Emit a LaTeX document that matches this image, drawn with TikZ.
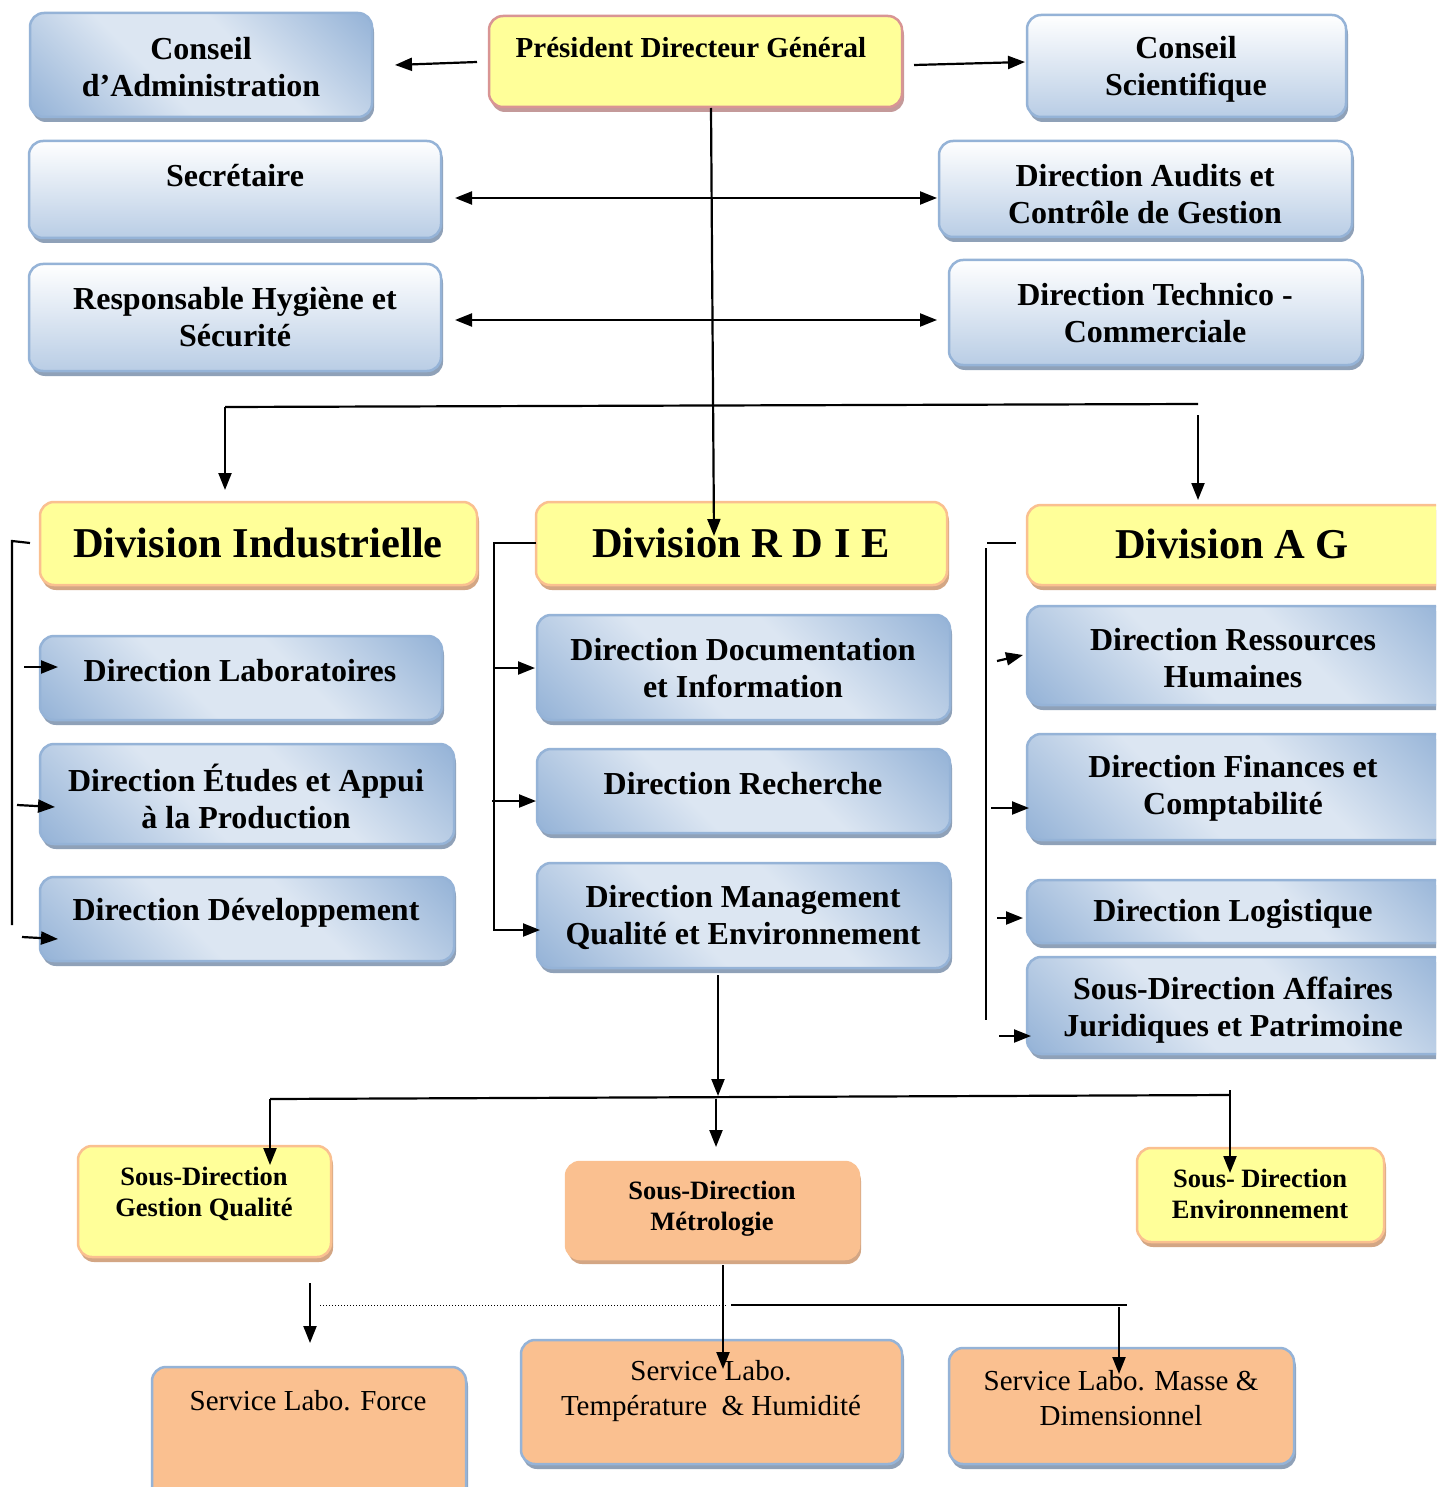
\documentclass[tikz,border=0pt]{standalone}
\usepackage{fontspec}
\setmainfont{Liberation Serif}
\usetikzlibrary{shadows,arrows.meta,calc}
\definecolor{bdark}{HTML}{95B3D7}
\definecolor{blight}{HTML}{DCE6F2}
\definecolor{bbot}{HTML}{B9CDE5}
\definecolor{yel}{HTML}{FFFF99}
\definecolor{orb}{HTML}{FAC090}
\definecolor{pinkb}{HTML}{D99594}
\definecolor{shblue}{HTML}{8FA1B8}
\definecolor{shtan}{HTML}{D3A684}
\definecolor{shpink}{HTML}{C49A9A}
\pgfdeclarehorizontalshading{diagsh}{100bp}{color(0bp)=(bdark); color(15bp)=(bdark); color(41bp)=(blight); color(59bp)=(blight); color(85bp)=(bdark); color(100bp)=(bdark)}
\newcommand\mkbox[6]{\node[#2, minimum width={#5pt-#3pt}, minimum height={#6pt-#4pt}] (#1) at ({(#3+#5)/2},{(#4+#6)/2}) {};}
\newcommand\mktext[5]{\node[#2] (#1) at (#3,#4) {#5};}
\tikzset{
  box/.style={rounded corners=14pt, line width=2.5pt, inner sep=0pt, outer sep=0pt},
  bshadow/.style={drop shadow={shadow xshift=2pt, shadow yshift=-5pt, fill=shblue, opacity=1}},
  diag/.style={box, bshadow, draw=bdark, shading=diagsh, shading angle=45},
  vert/.style={box, bshadow, draw=bdark, top color=white, bottom color=bbot},
  yelbox/.style={box, draw=orb, fill=yel, drop shadow={shadow xshift=2pt, shadow yshift=-5pt, fill=shtan, opacity=1}},
  pdgbox/.style={box, draw=pinkb, fill=yel, drop shadow={shadow xshift=2pt, shadow yshift=-5pt, fill=shpink, opacity=1}},
  orbox/.style={box, draw=orb, fill=orb, drop shadow={shadow xshift=2pt, shadow yshift=-5pt, fill=shtan, opacity=1}},
  servbox/.style={box, bshadow, draw=bdark, fill=orb},
  tb/.style={font=\fontsize{32}{37}\selectfont\bfseries, align=center, inner sep=0pt},
  tpdg/.style={font=\fontsize{29}{35}\selectfont\bfseries, align=center, inner sep=0pt},
  tdiv/.style={font=\fontsize{42.5}{50}\selectfont\bfseries, align=center, inner sep=0pt},
  tsm/.style={font=\fontsize{26.5}{31}\selectfont\bfseries, align=center, inner sep=0pt},
  tsv/.style={font=\fontsize{29}{35}\selectfont, align=center, inner sep=0pt},
  conn/.style={line width=2.2pt},
  arr/.style={conn, -{Triangle[length=17pt,width=13pt]}},
  darr/.style={conn, {Triangle[length=17pt,width=13pt]}-{Triangle[length=17pt,width=13pt]}},
}
\begin{document}
\begin{tikzpicture}[x=1pt,y=-1pt]
\useasboundingbox (0,0) rectangle (1436,1487);
\fill[white] (0,0) rectangle (1436,1487);
\clip (0,0) rectangle (1436,1487);
% boxes
\mkbox{ca}{diag}{30}{13}{372}{117}
\mkbox{pdg}{pdgbox}{489}{16}{902}{107}
\mkbox{cs}{vert}{1027}{15}{1346}{117}
\mkbox{sec}{vert}{29}{141}{441}{238}
\mkbox{aud}{vert}{939}{141}{1352}{237}
\mkbox{resp}{vert}{29}{264}{441}{371}
\mkbox{tech}{vert}{949}{260}{1362}{365}
\mkbox{divi}{yelbox}{40}{502}{477}{585}
\mkbox{divr}{yelbox}{536}{502}{947}{585}
\mkbox{diva}{yelbox}{1027}{505}{1452}{585}
\mkbox{labo}{diag}{40}{636}{442}{720}
\mkbox{etud}{diag}{40}{744}{454}{844}
\mkbox{dev}{diag}{40}{877}{454}{961}
\mkbox{doc}{diag}{537}{615}{950}{720}
\mkbox{rech}{diag}{537}{749}{950}{833}
\mkbox{mgmt}{diag}{537}{863}{950}{968}
\mkbox{rh}{diag}{1027}{606}{1452}{705}
\mkbox{fin}{diag}{1027}{734}{1452}{840}
\mkbox{log}{diag}{1027}{880}{1452}{943}
\mkbox{jur}{diag}{1027}{957}{1452}{1054}
\mkbox{gq}{yelbox}{78}{1146}{331}{1257}
\mkbox{metro}{orbox}{566}{1162}{859}{1259}
\mkbox{env}{yelbox}{1137}{1148}{1384}{1242}
\mkbox{force}{servbox}{152}{1367}{466}{1510}
\mkbox{temp}{servbox}{521}{1340}{902}{1464}
\mkbox{masse}{servbox}{949}{1348}{1294}{1464}
% texts
\mktext{ca-t}{tb}{201}{67}{Conseil\\d’Administration}
\mktext{pdg-t}{tpdg}{691}{48}{Président Directeur Général}
\mktext{cs-t}{tb}{1186}{69}{Conseil\\Scientifique}
\mktext{sec-t}{tb}{235}{176}{Secrétaire}
\mktext{aud-t}{tb}{1145}{194}{Direction Audits et\\Contrôle de Gestion}
\mktext{resp-t}{tb}{235}{317}{Responsable Hygiène et\\Sécurité}
\mktext{tech-t}{tb}{1155}{313}{Direction Technico -\\Commerciale}
\mktext{divi-t}{tdiv}{258}{543}{Division Industrielle}
\mktext{divr-t}{tdiv}{741}{543}{Division R D I E}
\mktext{diva-t}{tdiv}{1232}{544}{Division A G}
\mktext{labo-t}{tb}{240}{671}{Direction Laboratoires}
\mktext{etud-t}{tb}{246}{796}{Direction Études et Appui\\à la Production}
\mktext{dev-t}{tb}{246}{913}{Direction Développement}
\mktext{doc-t}{tb}{743}{668}{Direction Documentation\\et Information}
\mktext{rech-t}{tb}{743}{784}{Direction Recherche}
\mktext{mgmt-t}{tb}{743}{917}{Direction Management\\Qualité et Environnement}
\mktext{rh-t}{tb}{1233}{658}{Direction Ressources\\Humaines}
\mktext{fin-t}{tb}{1233}{788}{Direction Finances et\\Comptabilité}
\mktext{log-t}{tb}{1233}{914}{Direction Logistique}
\mktext{jur-t}{tb}{1233}{1010}{Sous-Direction Affaires\\Juridiques et Patrimoine}
\mktext{gq-t}{tsm}{204}{1194}{Sous-Direction\\Gestion Qualité}
\mktext{metro-t}{tsm}{712}{1209}{Sous-Direction\\Métrologie}
\mktext{env-t}{tsm}{1260}{1194}{Sous- Direction\\Environnement}
\mktext{force-t}{tsv}{308}{1401}{Service Labo. Force}
\mktext{temp-t}{tsv}{711}{1391}{Service Labo.\\Température~~\& Humidité}
\mktext{masse-t}{tsv}{1121}{1398}{Service Labo. Masse \&\\Dimensionnel}
% connector coordinates
\coordinate (pA) at (477,62);  \coordinate (caE) at (395,65);
\coordinate (pB) at (914,65);  \coordinate (csW) at (1025,62);
\coordinate (secE) at (455,198); \coordinate (audW) at (937,198);
\coordinate (respE) at (455,320); \coordinate (techW) at (937,320);
\coordinate (pS) at (711,108); \coordinate (rdN) at (714,536);
\coordinate (hL) at (225,407); \coordinate (hR) at (1198,404);
\coordinate (hR2) at (1198,415);
\coordinate (diN) at (225,490); \coordinate (daN) at (1198,500);
% top connectors
\draw[arr] (pA) -- (caE);
\draw[arr] (pB) -- (csW);
\draw[darr] (secE) -- (audW);
\draw[darr] (respE) -- (techW);
\draw[arr] (pS) -- (rdN);
\draw[conn] (hR) -- (hL);
\draw[arr] (hL) -- (diN);
\draw[arr] (hR2) -- (daN);
% left bracket
\coordinate (l0) at (30,543); \coordinate (l1) at (12,541); \coordinate (l2) at (12,925);
\draw[conn] (l0) -- (l1) -- (l2);
\coordinate (la) at (24,667); \coordinate (lat) at (58,667);
\coordinate (lb) at (17,805); \coordinate (lbt) at (55,807);
\coordinate (lc) at (22,937); \coordinate (lct) at (58,939);
\draw[arr] (la) -- (lat);
\draw[arr] (lb) -- (lbt);
\draw[arr] (lc) -- (lct);
% middle bracket
\coordinate (m0) at (536,543); \coordinate (m1) at (494,543); \coordinate (m2) at (494,930);
\coordinate (m2t) at (540,930);
\draw[arr] (m0) -- (m1) -- (m2) -- (m2t);
\coordinate (ma) at (494,668); \coordinate (mat) at (535,668);
\coordinate (mb) at (492,801); \coordinate (mbt) at (536,801);
\draw[arr] (ma) -- (mat);
\draw[arr] (mb) -- (mbt);
% right bracket
\coordinate (r0) at (1016,543); \coordinate (r1) at (987,543);
\coordinate (r2) at (986,548); \coordinate (r3) at (986,1020);
\draw[conn] (r0) -- (r1);
\draw[conn] (r2) -- (r3);
\coordinate (ra) at (997,661); \coordinate (rat) at (1023,655);
\coordinate (rb) at (991,808); \coordinate (rbt) at (1029,808);
\coordinate (rc) at (997,918); \coordinate (rct) at (1023,918);
\coordinate (rd) at (999,1036); \coordinate (rdt) at (1031,1036);
\draw[arr] (ra) -- (rat);
\draw[arr] (rb) -- (rbt);
\draw[arr] (rc) -- (rct);
\draw[arr] (rd) -- (rdt);
% bottom
\coordinate (mS) at (718,975); \coordinate (mSt) at (718,1096);
\coordinate (bL) at (270,1099); \coordinate (bR) at (1230,1095);
\coordinate (bM) at (716,1099); \coordinate (bMt) at (716,1147);
\coordinate (gqN) at (270,1165);
\coordinate (bR0) at (1230,1090); \coordinate (envN) at (1230,1173);
\draw[arr] (mS) -- (mSt);
\draw[conn] (bL) -- (bR);
\draw[arr] (bM) -- (bMt);
\draw[arr] (bL) -- (gqN);
\draw[arr] (bR0) -- (envN);
\coordinate (fa) at (310,1283); \coordinate (fat) at (310,1343);
\draw[arr] (fa) -- (fat);
\coordinate (d0) at (320,1305); \coordinate (d1) at (727,1305);
\draw[line width=1pt, dotted] (d0) -- (d1);
\coordinate (ta) at (723,1265); \coordinate (tat) at (723,1369);
\draw[arr] (ta) -- (tat);
\coordinate (s0) at (731,1305); \coordinate (s1) at (1127,1305);
\draw[conn] (s0) -- (s1);
\coordinate (ma0) at (1119,1307); \coordinate (mat2) at (1119,1374);
\draw[arr] (ma0) -- (mat2);
\end{tikzpicture}
\end{document}
